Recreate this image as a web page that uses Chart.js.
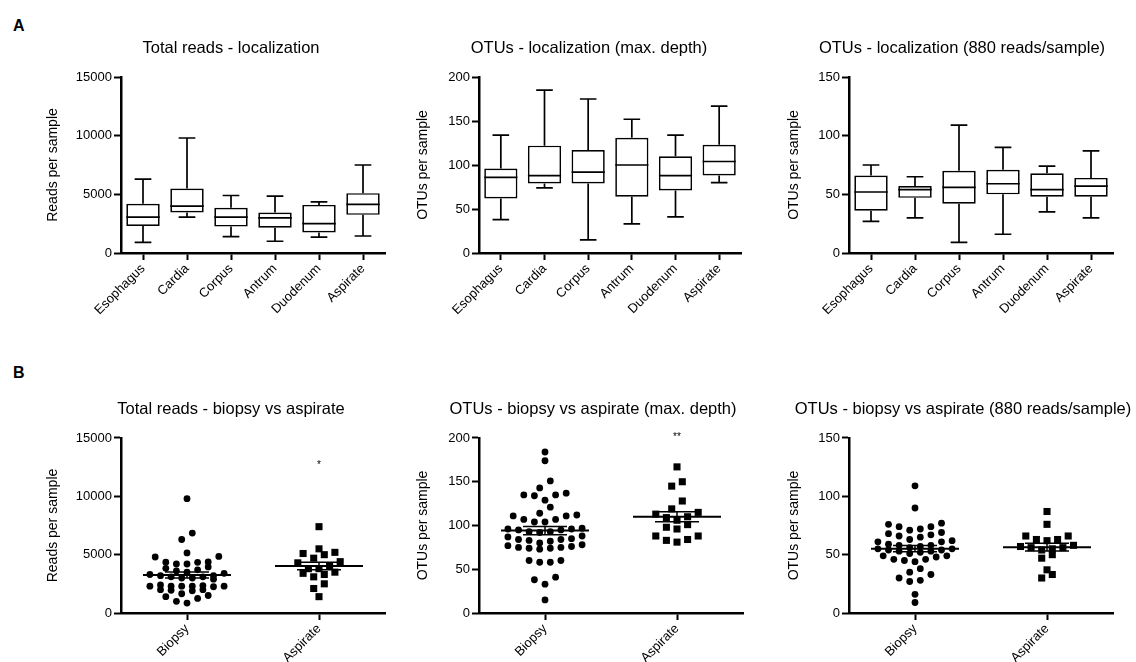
<!DOCTYPE html>
<html>
<head>
<meta charset="utf-8">
<script src="https://cdn.jsdelivr.net/npm/chart.js@4.4.1/dist/chart.umd.min.js"></script>
<style>
  html, body { margin: 0; padding: 0; background: #fff; width: 1136px; height: 662px; overflow: hidden; }
  canvas.panel { position: absolute; }
  .letter { position: absolute; font: bold 16px "Liberation Sans", Arial, sans-serif; color: #000; }
</style>
</head>
<body>
<div class="letter" style="left:13px;top:17px">A</div>
<div class="letter" style="left:13px;top:364px">B</div>
<canvas id="a1" class="panel"></canvas>
<canvas id="a2" class="panel"></canvas>
<canvas id="a3" class="panel"></canvas>
<canvas id="b1" class="panel"></canvas>
<canvas id="b2" class="panel"></canvas>
<canvas id="b3" class="panel"></canvas>
<script>
const FONT = '"Liberation Sans", Arial, sans-serif';

// ---- categories ----
const sites = ['Esophagus', 'Cardia', 'Corpus', 'Antrum', 'Duodenum', 'Aspirate'];
const groups = ['Biopsy', 'Aspirate'];

// ---- total reads per location (box: min, Q1, median, Q3, max) ----
const readsMin    = [900, 3050, 1400, 1000, 1350, 1450];
const readsQ1     = [2300, 3450, 2250, 2150, 1750, 3250];
const readsMedian = [3050, 4000, 3050, 3000, 2500, 4150];
const readsQ3     = [4200, 5500, 3850, 3450, 4100, 5100];
const readsMax    = [6300, 9800, 4900, 4850, 4350, 7500];

// ---- OTUs per location at max. depth ----
const otuMin    = [38, 74, 15, 33, 41, 80];
const otuQ1     = [62, 79, 79, 64, 71, 88];
const otuMedian = [86, 88, 92, 100, 88, 104];
const otuQ3     = [96, 122, 117, 131, 110, 123];
const otuMax    = [134, 185, 175, 152, 134, 167];

// ---- OTUs per location at 880 reads/sample ----
const rarMin    = [27, 30, 9, 16, 35, 30];
const rarQ1     = [36, 47, 42, 50, 48, 48];
const rarMedian = [52, 54, 56, 59, 54, 57];
const rarQ3     = [66, 57, 70, 71, 68, 64];
const rarMax    = [75, 65, 109, 90, 74, 87];

// ---- individual samples, biopsy vs aspirate ----
const readsBiopsy = [9800, 6850, 6300, 5150, 4850, 4800, 4350, 4340, 4200, 4200, 4370, 3950, 3830,
  3700, 3600, 3500, 3400, 3300, 3200, 3200, 3100, 3100, 3000, 3000, 2900, 2400, 2350, 2300, 2300,
  2300, 2300, 2300, 2250, 2000, 2000, 1950, 1900, 1650, 1500, 1400, 1250, 1000, 850];
const readsAspirate = [7400, 5500, 5200, 5000, 5100, 4700, 4400, 4300, 4000, 3800, 3800, 3500,
  3400, 3300, 3100, 2500, 2100, 1400];

const otuBiopsy = [184, 174, 151, 143, 137, 135, 135, 134, 129, 121, 114, 112, 111, 111, 107, 107,
  104, 104, 97, 96, 96, 95, 95, 93, 93, 92, 88, 87, 85, 84, 84, 83, 82, 80, 78, 77, 76, 75, 75, 74,
  74, 73, 60, 60, 58, 58, 41, 38, 33, 15];
const otuAspirate = [167, 150, 145, 128, 119, 115, 113, 110, 109, 106, 101, 98, 96, 88, 88, 84, 83, 81];

const rarBiopsy = [109, 90, 77, 76, 74, 74, 72, 71, 69, 68, 67, 66, 65, 63, 62, 61, 61, 59, 58, 58,
  57, 56, 55, 55, 54, 54, 53, 53, 52, 51, 49, 49, 48, 46, 46, 45, 44, 38, 35, 33, 30, 28, 27, 16, 9];
const rarAspirate = [87, 76, 66, 63, 58, 56, 55, 54, 57, 56, 50, 47, 62, 63, 66, 37, 30, 33];

// ---- shared styling ----
const tickFont = { family: FONT, size: 13 };
const titleSize = 16.5;
const axisGrid = { drawOnChartArea: false, tickLength: 7, tickWidth: 2, tickColor: '#000' };
const axisBorder = { display: true, color: '#000', width: 2.5 };

function frameCanvas(id, f) {
  const c = document.getElementById(id);
  c.width = f.width; c.height = f.height;
  c.style.left = f.left + 'px'; c.style.top = f.top + 'px';
  return c;
}

function commonOptions(f, title, yTitle, yMax, yStep) {
  return {
    responsive: false,
    animation: false,
    events: [],
    layout: { padding: 0 },
    plugins: {
      legend: { display: false },
      tooltip: { enabled: false },
      title: {
        display: true, text: title, color: '#000',
        font: { family: FONT, size: titleSize, weight: 'normal' },
        padding: { top: f.titleTop, bottom: f.titleBottom }
      }
    },
    scales: {
      y: {
        min: 0, max: yMax,
        ticks: { stepSize: yStep, color: '#000', font: tickFont, padding: 2, callback: v => String(v) },
        grid: axisGrid, border: axisBorder,
        title: { display: true, text: yTitle, color: '#000', font: { family: FONT, size: 14 }, padding: { top: 0, bottom: 0 } },
        afterFit: s => { s.width = f.yWidth; }
      },
      spacer: {
        type: 'linear', position: 'right', display: true,
        grid: { display: false }, border: { display: false }, ticks: { display: false },
        afterFit: s => { s.width = f.spacer; }
      }
    }
  };
}

// whiskers and median line drawn on top of the floating Q1–Q3 bars
function boxWhiskers(stats) {
  return {
    id: 'boxWhiskers',
    afterDatasetsDraw(chart) {
      const ctx = chart.ctx, y = chart.scales.y;
      const meta = chart.getDatasetMeta(0);
      ctx.save();
      ctx.strokeStyle = '#000';
      ctx.lineWidth = 1.7;
      meta.data.forEach((bar, i) => {
        const half = bar.width / 2, cap = bar.width / 4, x = bar.x;
        const pMin = y.getPixelForValue(stats.min[i]);
        const pQ1 = y.getPixelForValue(stats.q1[i]);
        const pMed = y.getPixelForValue(stats.median[i]);
        const pQ3 = y.getPixelForValue(stats.q3[i]);
        const pMax = y.getPixelForValue(stats.max[i]);
        ctx.beginPath();
        ctx.moveTo(x, pQ3); ctx.lineTo(x, pMax);
        ctx.moveTo(x - cap, pMax); ctx.lineTo(x + cap, pMax);
        ctx.moveTo(x, pQ1); ctx.lineTo(x, pMin);
        ctx.moveTo(x - cap, pMin); ctx.lineTo(x + cap, pMin);
        ctx.moveTo(x - half, pMed); ctx.lineTo(x + half, pMed);
        ctx.stroke();
      });
      ctx.restore();
    }
  };
}

function makeBoxChart(id, f, title, yTitle, yMax, yStep, stats) {
  const canvas = frameCanvas(id, f);
  const opts = commonOptions(f, title, yTitle, yMax, yStep);
  opts.scales.x = {
    type: 'category', offset: true,
    grid: Object.assign({ offset: false }, axisGrid), border: axisBorder,
    ticks: { color: '#000', font: tickFont, minRotation: 45, maxRotation: 45, padding: 1, autoSkip: false },
    afterFit: s => { s.height = f.xHeight; }
  };
  return new Chart(canvas, {
    type: 'bar',
    data: {
      labels: sites,
      datasets: [{
        data: stats.q1.map((v, i) => [v, stats.q3[i]]),
        backgroundColor: '#fff', borderColor: '#000', borderWidth: 1.7, borderSkipped: false,
        barPercentage: 0.76, categoryPercentage: 1
      }]
    },
    options: opts,
    plugins: [boxWhiskers(stats)]
  });
}

// mean line with SEM bars for each group, plus significance marks
function meanSem(signif) {
  return {
    id: 'meanSem',
    afterDatasetsDraw(chart) {
      const ctx = chart.ctx, x = chart.scales.x, y = chart.scales.y;
      ctx.save();
      ctx.strokeStyle = '#000';
      chart.data.datasets.forEach((ds, g) => {
        const vals = ds.data.map(p => p.y);
        const n = vals.length;
        const mean = vals.reduce((a, b) => a + b, 0) / n;
        const sd = Math.sqrt(vals.reduce((a, b) => a + (b - mean) * (b - mean), 0) / (n - 1));
        const sem = sd / Math.sqrt(n);
        const cx = x.getPixelForValue(g);
        const pm = y.getPixelForValue(mean), ph = y.getPixelForValue(mean + sem), pl = y.getPixelForValue(mean - sem);
        ctx.lineWidth = 2;
        ctx.beginPath(); ctx.moveTo(cx - 44, pm); ctx.lineTo(cx + 44, pm); ctx.stroke();
        ctx.lineWidth = 1.5;
        ctx.beginPath();
        ctx.moveTo(cx - 22, ph); ctx.lineTo(cx + 22, ph);
        ctx.moveTo(cx - 22, pl); ctx.lineTo(cx + 22, pl);
        ctx.moveTo(cx, ph); ctx.lineTo(cx, pl);
        ctx.stroke();
      });
      if (signif) {
        ctx.fillStyle = '#000';
        ctx.font = '10px ' + FONT;
        ctx.textAlign = 'center';
        ctx.textBaseline = 'middle';
        ctx.fillText(signif.text, x.getPixelForValue(signif.group), y.getPixelForValue(signif.y));
      }
      ctx.restore();
    }
  };
}

// scatter-dot layout: points sharing a narrow value band sit side by side in a centred row,
// lowest value in the middle and higher ones alternating outwards
function swarmOffsets(values, yScale, spacing, rowSpan, maxRow) {
  const order = values.map((v, i) => i).sort((a, b) => values[a] - values[b]);
  const offs = new Array(values.length).fill(0);
  let row = [], startPx = 0;
  const flush = () => {
    const n = row.length, slots = [];
    for (let k = 0; k < n; k++) slots.push((k - (n - 1) / 2) * spacing);
    slots.sort((a, b) => Math.abs(a) - Math.abs(b) || a - b);
    row.forEach((id, j) => { offs[id] = slots[j]; });
  };
  order.forEach(id => {
    const py = yScale.getPixelForValue(values[id]);
    if (row.length && (startPx - py > rowSpan || row.length >= maxRow)) { flush(); row = []; }
    if (!row.length) startPx = py;
    row.push(id);
  });
  if (row.length) flush();
  return offs;
}

function makeDotChart(id, f, title, yTitle, yMax, yStep, biopsy, aspirate, signif) {
  const canvas = frameCanvas(id, f);
  const opts = commonOptions(f, title, yTitle, yMax, yStep);
  opts.scales.x = {
    type: 'linear', min: -0.5, max: 1.5,
    afterBuildTicks: s => { s.ticks = groups.map((g, i) => ({ value: i })); },
    grid: axisGrid, border: axisBorder,
    ticks: { color: '#000', font: tickFont, minRotation: 45, maxRotation: 45, padding: 1, autoSkip: false,
             callback: v => groups[v] },
    afterFit: s => { s.height = f.xHeight; }
  };
  const chart = new Chart(canvas, {
    type: 'scatter',
    data: {
      datasets: [
        { data: biopsy.map(v => ({ x: 0, y: v })), pointStyle: 'circle', pointRadius: 3.4,
          backgroundColor: '#000', borderWidth: 0 },
        { data: aspirate.map(v => ({ x: 1, y: v })), pointStyle: 'rect', pointRadius: 5,
          backgroundColor: '#000', borderWidth: 0 }
      ]
    },
    options: opts,
    plugins: [meanSem(signif)]
  });
  const xs = chart.scales.x, ys = chart.scales.y;
  const unit = xs.getPixelForValue(1) - xs.getPixelForValue(0);
  [biopsy, aspirate].forEach((vals, g) => {
    const offs = swarmOffsets(vals, ys, 10.6, 8, 8);
    chart.data.datasets[g].data = vals.map((v, i) => ({ x: g + offs[i] / unit, y: v }));
  });
  chart.update('none');
  return chart;
}

// ---- panel frames ----
const titleLine = titleSize * 1.2;
const rowA = { top: 0, height: 330, titleTop: 48 - titleLine / 2, titleBottom: 77 - 48 - titleLine / 2, xHeight: 77 };
const rowB = { top: 330, height: 332, titleTop: 79 - titleLine / 2, titleBottom: 108 - 79 - titleLine / 2, xHeight: 49 };
const colL = { left: 45, width: 372, yWidth: 76, spacer: 32 };
const colM = { left: 415, width: 348, yWidth: 64, spacer: 22 };
const colR = { left: 786, width: 352, yWidth: 63, spacer: 25 };

makeBoxChart('a1', Object.assign({}, rowA, colL), 'Total reads - localization', 'Reads per sample', 15000, 5000,
  { min: readsMin, q1: readsQ1, median: readsMedian, q3: readsQ3, max: readsMax });
makeBoxChart('a2', Object.assign({}, rowA, colM), 'OTUs - localization (max. depth)', 'OTUs per sample', 200, 50,
  { min: otuMin, q1: otuQ1, median: otuMedian, q3: otuQ3, max: otuMax });
makeBoxChart('a3', Object.assign({}, rowA, colR), 'OTUs - localization (880 reads/sample)', 'OTUs per sample', 150, 50,
  { min: rarMin, q1: rarQ1, median: rarMedian, q3: rarQ3, max: rarMax });

makeDotChart('b1', Object.assign({}, rowB, colL), 'Total reads - biopsy vs aspirate', 'Reads per sample', 15000, 5000,
  readsBiopsy, readsAspirate, { text: '*', group: 1, y: 12700 });
makeDotChart('b2', Object.assign({}, rowB, colM, { width: 356, spacer: 28 }), 'OTUs - biopsy vs aspirate (max. depth)', 'OTUs per sample', 200, 50,
  otuBiopsy, otuAspirate, { text: '**', group: 1, y: 201 });
makeDotChart('b3', Object.assign({}, rowB, colR, { width: 354, spacer: 27 }), 'OTUs - biopsy vs aspirate (880 reads/sample)', 'OTUs per sample', 150, 50,
  rarBiopsy, rarAspirate, null);
</script>
</body>
</html>
